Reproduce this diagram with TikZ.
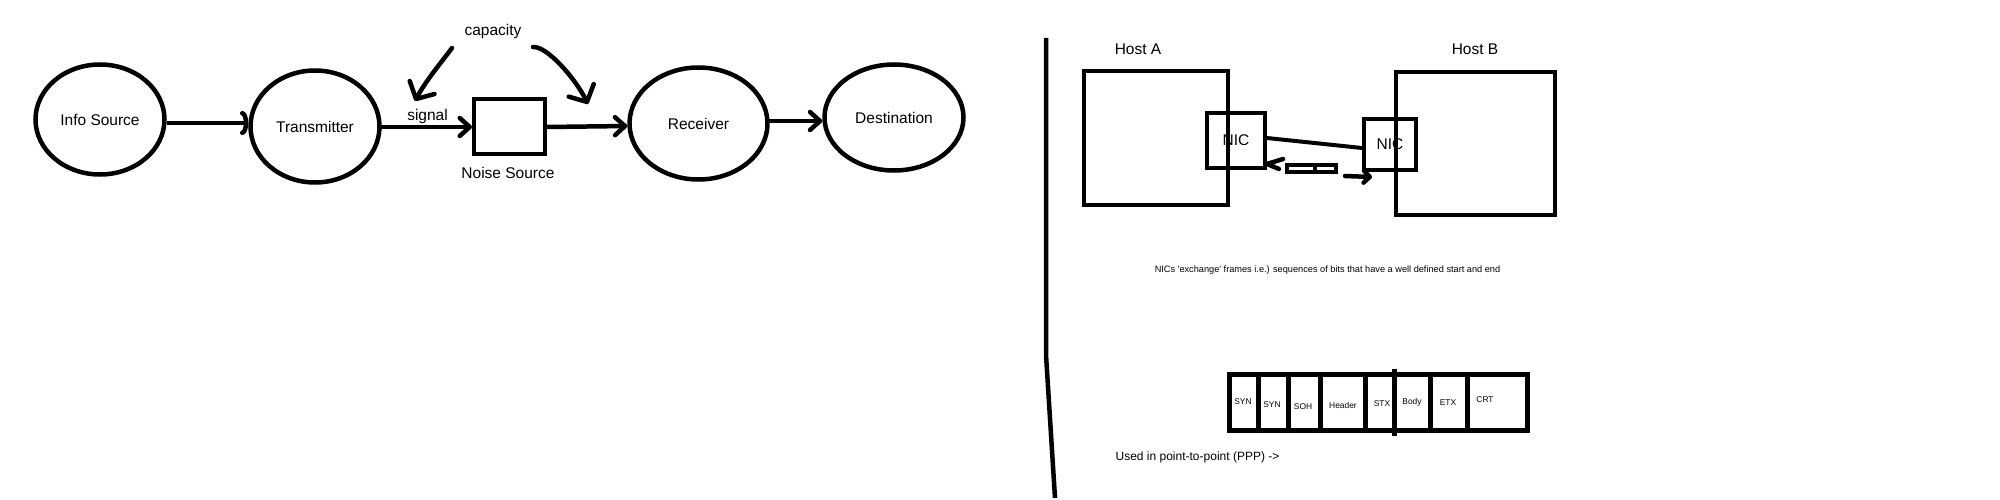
\documentclass[tikz,border=0pt]{standalone}
\usepackage{fontspec}
\setmainfont{Liberation Sans}
\usetikzlibrary{arrows.meta,shapes.geometric}
\newcommand\fbig{\fontsize{15.5}{18}\selectfont}
\newcommand\fmid{\fontsize{12}{14}\selectfont}
\newcommand\fsml{\fontsize{9.2}{11}\selectfont}
\newcommand\fcell{\fontsize{8.4}{10}\selectfont}
\begin{document}
\begin{tikzpicture}[x=1pt,y=-1pt,
  ell/.style={draw,ellipse,line width=4.5pt,inner sep=0pt,font=\fbig},
  box/.style={draw,rectangle,line width=4pt,inner sep=0pt},
  cell/.style={draw,rectangle,line width=5pt,inner sep=0pt,outer sep=0pt,minimum height=56pt},
  txt/.style={inner sep=0pt,font=\fbig},
  arrS/.style={line width=4.5pt,line cap=round,-{Straight Barb[length=10pt,width=18pt,round]}},
  arrA/.style={line width=4.5pt,-{Arc Barb[length=6pt,width=24pt,round]}},
  arrC/.style={line width=4.5pt,line cap=round,-{Straight Barb[length=13pt,width=28pt,round]}},
  thk/.style={line width=4.5pt,line cap=round,line join=round}]
\useasboundingbox (0,0) rectangle (2000,500);
% left: communication model
\node[ell,minimum width=129pt,minimum height=110pt] (info) at (100,119.5) {Info Source};
\node[ell,minimum width=129pt,minimum height=112pt] (trans) at (315,126.5) {Transmitter};
\node[box,minimum width=71pt,minimum height=55pt] (noise) at (509.5,126.5) {};
\node[txt] (noiselbl) at (508,173) {Noise Source};
\node[ell,minimum width=138pt,minimum height=112pt] (recv) at (698.5,123.5) {Receiver};
\node[ell,minimum width=139pt,minimum height=106pt] (dest) at (894,117.5) {Destination};
\node[txt,anchor=base] (signal) at (427.5,121) {signal};
\node[txt] (cap) at (493,31) {capacity};
\draw[arrA] (info.east |- 0,123) -- (trans.west |- 0,123);
\draw[arrS] (trans.east |- 0,127) -- (noise.west |- 0,127);
\draw[arrS] (noise.east |- 0,127) -- (recv.west |- 0,126);
\draw[arrS] (recv.east |- 0,121) -- (dest.west |- 0,121);
\coordinate (capL) at (452,48);
\coordinate (capLend) at (415,101);
\coordinate (capR) at (533,47);
\coordinate (capRend) at (588,104);
\draw[arrC] (capL) .. controls (440,64) and (425,82) .. (capLend);
\draw[arrC] (capR) .. controls (547,46) and (575,78) .. (capRend);
% divider line
\coordinate (vt) at (1046,38);
\coordinate (vm) at (1046,355);
\coordinate (vb) at (1055,498);
\draw[line width=4.5pt] (vt) -- (vm) -- (vb);
% hosts
\node[box,minimum width=144pt,minimum height=134pt] (hostA) at (1156,138) {};
\node[box,minimum width=159pt,minimum height=143pt] (hostB) at (1475.5,143.5) {};
\node[txt] (hostAlbl) at (1138,49) {Host A};
\node[txt] (hostBlbl) at (1475,49) {Host B};
\node[box,minimum width=58pt,minimum height=55pt,font=\fbig] (nicA) at (1236,140.5) {NIC};
\node[box,minimum width=52pt,minimum height=51pt,font=\fbig] (nicB) at (1390,144.5) {NIC};
\draw[line width=4pt] (nicA.east |- 0,138) -- (nicB.west |- 0,148);
\node[box,minimum width=49pt,minimum height=7pt] (pkt) at (1311.5,168.5) {};
\draw[line width=4pt] (pkt.north -| 1315,0) -- (pkt.south -| 1315,0);
\coordinate (lhA) at (1283,159);
\coordinate (lhB) at (1279,169);
\draw[thk] (lhA) -- (nicA.east |- 0,164) -- (lhB);
\coordinate (raS) at (1345,176);
\coordinate (raE) at (1372,177);
\draw[line width=4.5pt,line cap=round,-{Straight Barb[length=6pt,width=12pt,round]}] (raS) -- (raE);
% caption
\node[inner sep=0pt,font=\fsml] (nics) at (1327.5,270) {NICs \textquotesingle exchange\textquotesingle{} frames i.e.) sequences of bits that have a well defined start and end};
% frame
\node[cell,minimum width=28.5pt] (c1) at (1243.75,402.5) {};
\node[cell,minimum width=30pt] (c2) at (1273,402.5) {};
\node[cell,minimum width=32pt] (c3) at (1304,402.5) {};
\node[cell,minimum width=45pt] (c4) at (1342.5,402.5) {};
\node[cell,minimum width=29pt] (c5) at (1379.5,402.5) {};
\node[cell,minimum width=36pt] (c6) at (1412,402.5) {};
\node[cell,minimum width=37pt] (c7) at (1448.5,402.5) {};
\node[cell,minimum width=60.5pt] (c8) at (1497.25,402.5) {};
\draw[line width=5pt] (c5.east |- 0,369) -- (c5.east |- 0,436);
\node[inner sep=0pt,font=\fcell] (l1) at (1243,402) {SYN};
\node[inner sep=0pt,font=\fcell] (l2) at (1272,405) {SYN};
\node[inner sep=0pt,font=\fcell] (l3) at (1303,407) {SOH};
\node[inner sep=0pt,font=\fcell] (l4) at (1343,405) {Header};
\node[inner sep=0pt,font=\fcell] (l5) at (1382,404) {STX};
\node[inner sep=0pt,font=\fcell] (l6) at (1412,402) {Body};
\node[inner sep=0pt,font=\fcell] (l7) at (1448,403) {ETX};
\node[inner sep=0pt,font=\fcell] (l8) at (1485,400) {CRT};
\node[inner sep=0pt,font=\fmid] (used) at (1197.5,457) {Used in point-to-point (PPP) ->};
\end{tikzpicture}
\end{document}
